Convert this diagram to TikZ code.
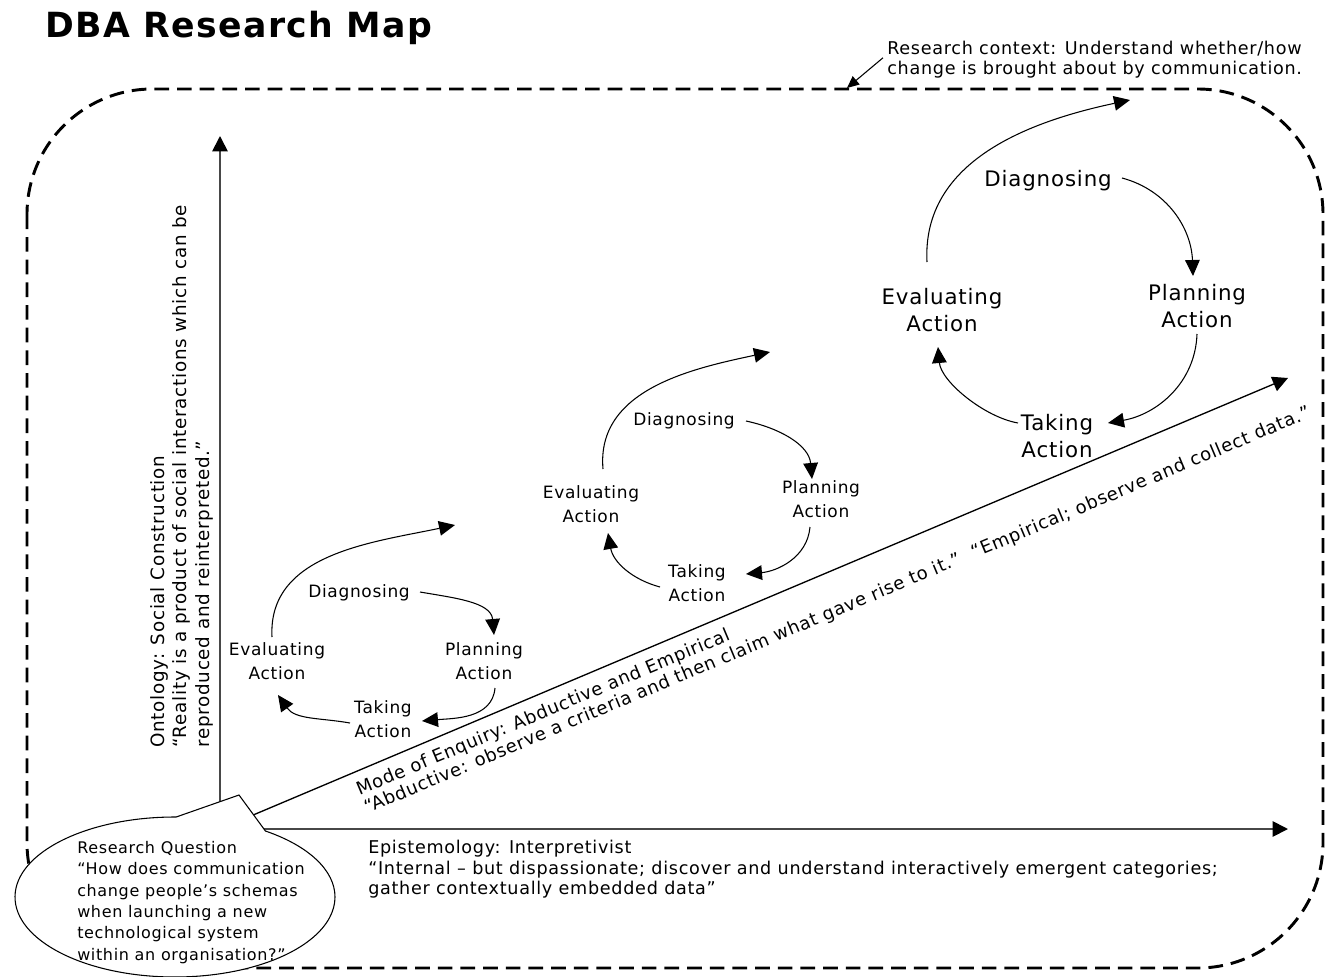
\documentclass[tikz,border=0pt]{standalone}
\usepackage{fontspec}
\setmainfont{DejaVu Sans}[LetterSpace=4]
\newfontfamily\titlefont{DejaVu Sans}[LetterSpace=4]
\usetikzlibrary{arrows.meta,shapes.callouts,calc}

\begin{document}
\begin{tikzpicture}[x=0.75pt,y=0.75pt,
  lbl/.style={inner sep=0pt, align=left, font=\fontsize{12}{15.4}\selectfont},
  cyc/.style={inner sep=0pt, align=center, font=\fontsize{12.75}{18}\selectfont},
  cycbig/.style={inner sep=0pt, align=center, font=\fontsize{16}{20.25}\selectfont},
  flow/.style={line width=0.8pt, -{Triangle[length=12pt,width=11pt]}},
  axis/.style={line width=1.3pt, draw=black!72, -{Triangle[length=11.5pt,width=11.5pt,color=black]}},
  border/.style={line width=2.2pt, dash pattern=on 11pt off 6pt, rounded corners=94pt},
]
\useasboundingbox (0,0) rectangle (1335,-977);

% title
\node[anchor=base west, inner sep=0pt, font=\titlefont\fontsize{26}{30}\selectfont\bfseries] (title) at (45,-38) {DBA Research Map};

% research context frame
\draw[border] (27,-89) rectangle (1323,-968);
\node[lbl, anchor=north west, font=\fontsize{13.2}{15}\selectfont] (ctx) at (887,-41)
  {Research context: Understand whether/how\\change is brought about by communication.};
\coordinate (ctxpt) at (847,-88);
\draw[line width=0.8pt, -{Triangle[length=9pt,width=8pt]}] ($(ctx.west)+(-4,2)$) -- (ctxpt);

% axes
\coordinate (O) at (220,-829);
\coordinate (ytip) at (220,-136);
\coordinate (xtip) at (1288,-829);
\coordinate (dtip) at (1288,-378);
\draw[axis] (O) -- (ytip);
\draw[axis] (O) -- (xtip);
\draw[line width=1pt, -{Triangle[length=11.5pt,width=11.5pt]}] (O) -- (dtip);

% axis labels
\node[lbl, rotate=90, anchor=north west, font=\fontsize{13.75}{16.9}\selectfont] (onto) at (150,-748)
  {Ontology: Social Construction\\“Reality is a product of social interactions which can be\\reproduced and reinterpreted.”};
\node[lbl, anchor=north west, font=\fontsize{13.2}{15.4}\selectfont] (epis) at (368,-840)
  {Epistemology: Interpretivist\\“Internal – but dispassionate; discover and understand interactively emergent categories;\\gather contextually embedded data”};
\node[lbl, rotate=22.8, anchor=north west, font=\fontsize{13.5}{14.8}\selectfont] (mode) at (354,-783)
  {Mode of Enquiry: Abductive and Empirical\\“Abductive: observe a criteria and then claim what gave rise to it.”\ \ “Empirical; observe and collect data.”};

% action research cycle 1
\node[cyc] (D1) at (359,-593) {Diagnosing};
\node[cyc] (P1) at (484,-661) {Planning\\Action};
\node[cyc] (T1) at (383,-719) {Taking\\Action};
\node[cyc] (E1) at (277,-661) {Evaluating\\Action};
\coordinate (c1) at (455,-525);
\draw[flow] ($(D1)+(61,1)$) to[out=-10,in=95] ($(P1)+(10,26)$);
\draw[flow] ($(P1)+(11,-27)$) to[out=-95,in=5] ($(T1)+(39,-2)$);
\draw[flow] ($(T1)+(-33,-4)$) to[out=170,in=-55] ($(E1)+(1,-34)$);
\draw[flow] ($(E1)+(-5,24)$) to[out=93,in=192] (c1);

% action research cycle 2
\node[cyc] (D2) at (684,-421) {Diagnosing};
\node[cyc] (P2) at (821,-499) {Planning\\Action};
\node[cyc] (T2) at (697,-583) {Taking\\Action};
\node[cyc] (E2) at (591,-504) {Evaluating\\Action};
\coordinate (c2) at (770,-352);
\draw[flow] ($(D2)+(62,0)$) to[out=-12,in=95] ($(P2)+(-9,20)$);
\draw[flow] ($(P2)+(-11,-28)$) to[out=-95,in=5] ($(T2)+(49,9)$);
\draw[flow] ($(T2)+(-37,-4)$) to[out=165,in=-80] ($(E2)+(17,-29)$);
\draw[flow] ($(E2)+(12,35)$) to[out=95,in=192] (c2);

% action research cycle 3
\node[cycbig] (D3) at (1048,-181) {Diagnosing};
\node[cycbig] (P3) at (1197,-306) {Planning\\Action};
\node[cycbig] (T3) at (1057,-436) {Taking\\Action};
\node[cycbig] (E3) at (942,-310) {Evaluating\\Action};
\coordinate (c3) at (1130,-100);
\draw[flow] ($(D3)+(74,3)$) to[out=-15,in=92] ($(P3)+(-4,30)$);
\draw[flow] ($(P3)+(0,-28)$) to[out=-92,in=10] ($(T3)+(51,13)$);
\draw[flow] ($(T3)+(-39,13)$) to[out=170,in=-85,looseness=0.8] ($(E3)+(-4,-37)$);
\draw[flow] ($(E3)+(-15,48)$) to[out=93,in=192] (c3);

% research question bubble
\node[ellipse callout, draw, fill=white, line width=0.8pt, inner sep=0pt,
      minimum width=240pt, minimum height=120pt,
      callout absolute pointer={(239,-795)}, callout pointer arc=34] (bubble) at (175,-897) {};
\node[lbl, anchor=north west, font=\fontsize{12}{16}\selectfont] (rq) at (77,-841)
  {Research Question\\“How does communication\\change people’s schemas\\when launching a new\\technological system\\within an organisation?”};
\end{tikzpicture}
\end{document}
